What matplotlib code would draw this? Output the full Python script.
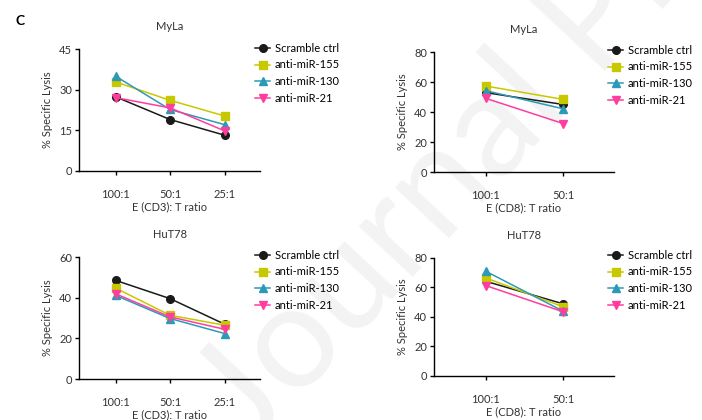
import matplotlib
matplotlib.use("Agg")
import matplotlib.pyplot as plt

plt.rcParams['font.family'] = ['Lato', 'DejaVu Sans']

series = ["Scramble ctrl", "anti-miR-155", "anti-miR-130", "anti-miR-21"]
colors = ["#1a1a1a", "#c8c800", "#2c9ab7", "#ff3d9e"]
markers = ["o", "s", "^", "v"]

cd3_ratios = ["100:1", "50:1", "25:1"]
cd8_ratios = ["100:1", "50:1"]

myla_cd3 = [[27.4, 19.0, 13.2],
            [32.9, 26.1, 20.3],
            [35.0, 22.7, 17.1],
            [27.1, 23.3, 14.8]]
myla_cd8 = [[53.0, 45.1],
            [57.4, 48.5],
            [54.3, 42.2],
            [49.2, 32.4]]
hut_cd3 = [[48.6, 39.6, 27.0],
           [44.8, 31.4, 26.5],
           [41.2, 29.8, 22.4],
           [42.0, 30.6, 24.5]]
hut_cd8 = [[64.2, 48.9],
           [66.5, 46.9],
           [71.0, 43.9],
           [61.3, 43.5]]

fig = plt.figure(figsize=(7.02, 4.2), dpi=100)

# faint watermark behind the panels
fig.text(0.36, -0.07, "Journal Pre-proof", rotation=47, rotation_mode="anchor",
         fontsize=105, color="#f3f3f3", ha="left", va="baseline", zorder=-5)

panels = [
    # rect, title, xlabel, ratios, data, yticks, legend anchor (fig coords)
    ([0.1125, 0.593, 0.258, 0.290], "MyLa", "E (CD3): T ratio", cd3_ratios, myla_cd3, [0, 15, 30, 45], (0.363, 0.898)),
    ([0.618, 0.590, 0.256, 0.286], "MyLa", "E (CD8): T ratio", cd8_ratios, myla_cd8, [0, 20, 40, 60, 80], (0.866, 0.893)),
    ([0.1125, 0.0976, 0.258, 0.290], "HuT78", "E (CD3): T ratio", cd3_ratios, hut_cd3, [0, 20, 40, 60], (0.363, 0.405)),
    ([0.618, 0.1048, 0.256, 0.281], "HuT78", "E (CD8): T ratio", cd8_ratios, hut_cd8, [0, 20, 40, 60, 80], (0.866, 0.405)),
]

for rect, title, xlabel, ratios, data, yticks, anchor in panels:
    ax = fig.add_axes(rect)
    ax.patch.set_alpha(0)
    x = list(range(len(ratios)))
    for name, vals, c, m in zip(series, data, colors, markers):
        ax.plot(x, vals, color=c, marker=m, markersize=5.5, lw=1.1, label=name)
    ax.set_xticks(x)
    ax.set_xticklabels(ratios, fontsize=8)
    ax.set_xlim(-0.67, len(ratios) - 1 + 0.65)
    ax.set_ylim(0, yticks[-1])
    ax.set_yticks(yticks)
    ax.tick_params(labelsize=8, length=3, width=1, pad=2, labelcolor="#333333")
    ax.tick_params(axis="x", pad=10)
    for s in ["top", "right"]:
        ax.spines[s].set_visible(False)
    for s in ["left", "bottom"]:
        ax.spines[s].set_linewidth(1)
    ax.set_ylabel("% Specific Lysis", fontsize=8, color="#333333", labelpad=4)
    ax.set_xlabel(xlabel, fontsize=8, color="#333333", labelpad=1)
    ax.set_title(title, fontsize=8, color="#333333", pad=14)
    ax.legend(loc="upper left", bbox_to_anchor=anchor, bbox_transform=fig.transFigure,
              frameon=False, fontsize=8, handlelength=1.4, handletextpad=0.4,
              labelspacing=0.5, borderaxespad=0, borderpad=0)

fig.text(0.022, 0.94, "C", fontsize=10, fontweight="bold")

fig.savefig("out.png", dpi=100)
